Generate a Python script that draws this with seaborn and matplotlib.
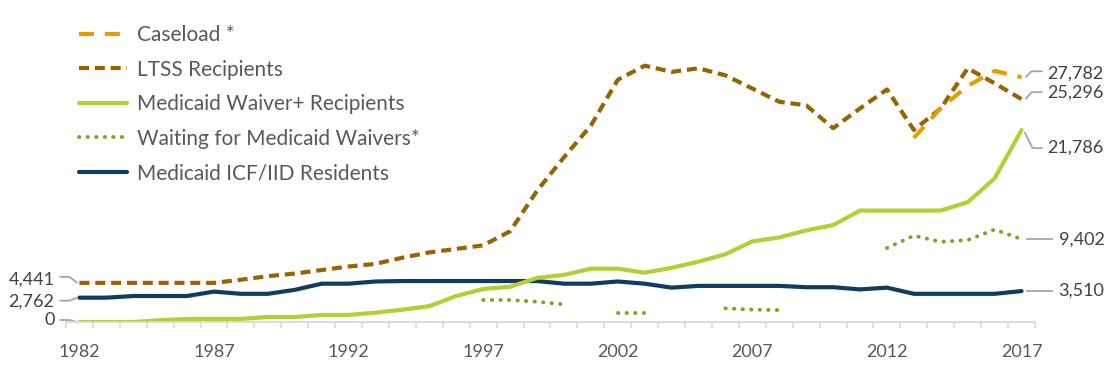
import numpy as np
import pandas as pd
import matplotlib
matplotlib.use("Agg")
import matplotlib.pyplot as plt
import seaborn as sns
from matplotlib.transforms import IdentityTransform

# ---- data ----
years = list(range(1982, 2018))
ltss = [4441, 4441, 4441, 4441, 4441, 4441, 4800, 5200, 5500, 5900,
        6300, 6600, 7300, 7900, 8300, 8700, 10300, 14900, 18700, 22300,
        27500, 29100, 28400, 28800, 28000, 26500, 25000, 24600, 22000, 24250,
        26400, 21800, 24250, 28800, 27100, 25296]
waiver = [0, 0, 0, 200, 350, 350, 350, 570, 570, 800,
          800, 1060, 1400, 1800, 2950, 3750, 4000, 5000, 5350, 6050,
          6050, 5600, 6150, 6850, 7700, 9150, 9600, 10400, 11000, 12650,
          12650, 12650, 12650, 13600, 16300, 21786]
icf = [2762, 2762, 2950, 2950, 2950, 3450, 3200, 3200, 3650, 4350,
       4350, 4600, 4650, 4650, 4650, 4650, 4650, 4650, 4350, 4350,
       4600, 4350, 3900, 4100, 4100, 4100, 4100, 3950, 3950, 3700,
       3900, 3200, 3200, 3200, 3200, 3510]
nan = np.nan
waiting = [nan, nan, nan, nan, nan, nan, nan, nan, nan, nan,
           nan, nan, nan, nan, nan, 2500, 2500, 2300, 2000, nan,
           1000, 1000, nan, nan, 1550, 1400, 1350, nan, nan, nan,
           8400, 9800, 9100, 9300, 10500, 9402]
caseload_years = [2013, 2014, 2015, 2016, 2017]
caseload = [20900, 24300, 26800, 28500, 27782]

label_ticks = [1982, 1987, 1992, 1997, 2002, 2007, 2012, 2017]

C_CASE = "#E59E00"
C_LTSS = "#976500"
C_WAIV = "#B5CE36"
C_WAIT = "#85A02A"
C_ICF = "#113C5D"
C_LEAD = "#A6A6A6"
C_TEXT = "#595959"
C_LABEL = "#404040"

sns.set_style("white")
plt.rcParams["font.family"] = ["Lato", "DejaVu Sans"]

W, H = 1112, 365
fig = plt.figure(figsize=(W / 100, H / 100), dpi=100)
ax = fig.add_axes([66 / W, 43 / H, 969 / W, 281 / H])

df = pd.DataFrame({"year": years, "ltss": ltss, "waiver": waiver,
                   "icf": icf, "waiting": waiting})

# draw order: ICF, waiver, waiting, LTSS, caseload
sns.lineplot(data=df, x="year", y="icf", color=C_ICF, linewidth=3.0,
             label="Medicaid ICF/IID Residents", ax=ax)
sns.lineplot(data=df, x="year", y="waiver", color=C_WAIV, linewidth=3.0,
             label="Medicaid Waiver+ Recipients", ax=ax)

# waiting list has gaps -> plot each run separately
has = df["waiting"].notna()
runs = (~has).cumsum()
first = True
for _, seg in df[has].groupby(runs[has]):
    sns.lineplot(data=seg, x="year", y="waiting", color=C_WAIT, linewidth=2.8,
                 label="Waiting for Medicaid Waivers*" if first else None, ax=ax)
    ln = ax.lines[-1]
    ln.set_dashes([0.1, 2.1])
    ln.set_dash_capstyle("round")
    first = False

sns.lineplot(data=df, x="year", y="ltss", color=C_LTSS, linewidth=3.0,
             label="LTSS Recipients", ax=ax)
ax.lines[-1].set_dashes([2.4, 1.4])

sns.lineplot(x=caseload_years, y=caseload, color=C_CASE, linewidth=3.0,
             label="Caseload *", ax=ax)
ax.lines[-1].set_dashes([3.6, 2.6])

ax.set_xlim(1981.5, 2017.5)
ax.set_ylim(0, 31900)
ax.set_xlabel("")
ax.set_ylabel("")
ax.set_yticks([])
ax.set_xticks(label_ticks)
ax.set_xticklabels([str(y) for y in label_ticks])
ax.set_xticks(np.arange(1981.5, 2018, 1), minor=True)
ax.tick_params(axis="x", which="major", length=0, pad=16, labelsize=13,
               labelcolor=C_TEXT)
ax.tick_params(axis="x", which="minor", length=4, width=1.2, color="#D9D9D9",
               direction="out", bottom=True)
for s in ["left", "right", "top"]:
    ax.spines[s].set_visible(False)
ax.spines["bottom"].set_color("#D9D9D9")
ax.spines["bottom"].set_linewidth(1.3)

# legend in the reference order
handles, labels = ax.get_legend_handles_labels()
order = ["Caseload *", "LTSS Recipients", "Medicaid Waiver+ Recipients",
         "Waiting for Medicaid Waivers*", "Medicaid ICF/IID Residents"]
hmap = dict(zip(labels, handles))
leg = ax.legend([hmap[k] for k in order], order, loc="upper left",
                bbox_to_anchor=(79 / W, 1 - 25 / H), bbox_transform=fig.transFigure,
                frameon=False, fontsize=15, handlelength=2.3,
                handletextpad=0.5, labelspacing=0.7, borderpad=0,
                borderaxespad=0)
for t in leg.get_texts():
    t.set_color(C_TEXT)


# data labels with leader lines (offsets in pixels, y pointing down)
def leader(x, y, path, text_off, text, ha):
    px, py = ax.transData.transform((x, y))
    xs = [px + dx for dx, dy in path]
    ys = [py - dy for dx, dy in path]
    ax.plot(xs, ys, color=C_LEAD, lw=1.3, transform=IdentityTransform(),
            clip_on=False, solid_capstyle="butt")
    ax.text(px + text_off[0], py - text_off[1], text, ha=ha, va="center",
            fontsize=13, color=C_LABEL, transform=IdentityTransform())


leader(1982, ltss[0], [(-2, 0), (-10, -6), (-20, -6)], (-25, -3), "4,441", "right")
leader(1982, icf[0], [(-2, 0), (-10, 3), (-20, 3)], (-25, 3.5), "2,762", "right")
leader(1982, waiver[0], [(-2, 0), (-10, -2), (-20, -2)], (-25, -2), "0", "right")

leader(2017, caseload[-1], [(4, 0), (10, -6), (21, -6)], (26, -4), "27,782", "left")
leader(2017, ltss[-1], [(4, 0), (10, -7), (21, -7)], (26, -7), "25,296", "left")
leader(2017, waiver[-1], [(3, 2), (11, 18), (21, 18)], (26, 18), "21,786", "left")
leader(2017, waiting[-1], [(4, 0), (31, 0)], (37, 0), "9,402", "left")
leader(2017, icf[-1], [(4, 0), (31, 0)], (37, 0), "3,510", "left")

fig.savefig("out.png", dpi=100)
